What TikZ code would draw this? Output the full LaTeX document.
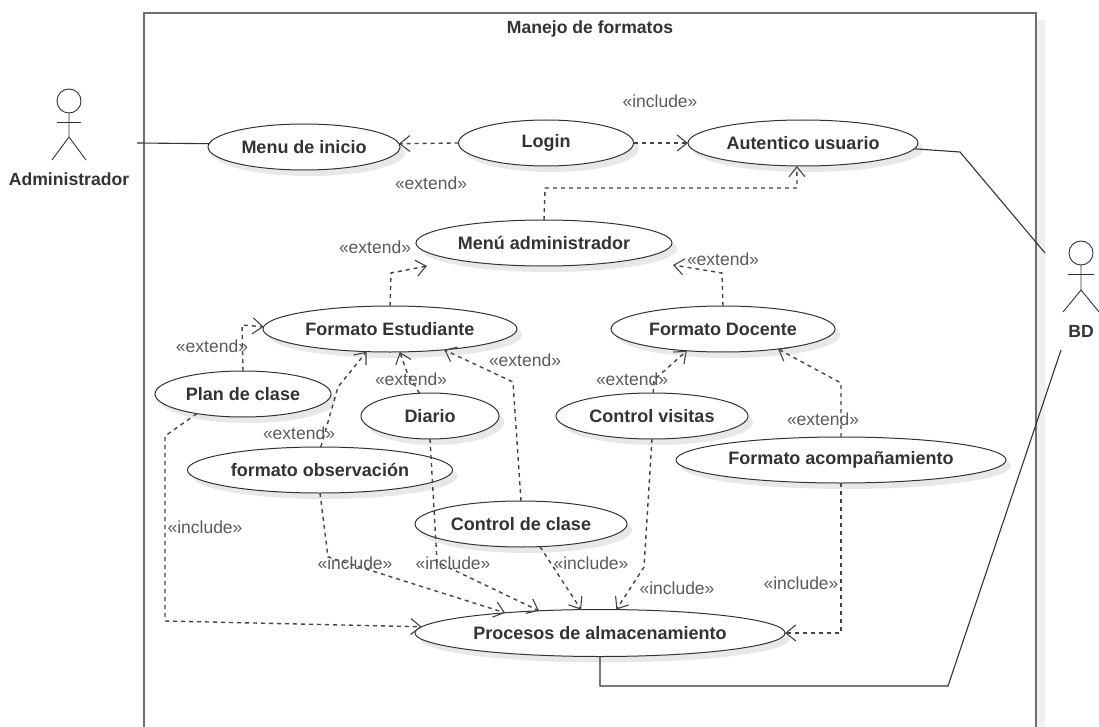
\documentclass[tikz,border=0pt]{standalone}
\usepackage{fontspec}
\setmainfont{Liberation Sans}
\usetikzlibrary{shapes.geometric,arrows.meta,shadows}
\definecolor{ink}{HTML}{333333}
\definecolor{lab}{HTML}{5A5A5A}
\definecolor{dep}{HTML}{444444}
\definecolor{fr}{HTML}{6E6E6E}
\tikzset{
  uc/.style={ellipse,draw=ink,fill=white,line width=1pt,inner sep=0pt,outer sep=0pt,
    minimum height=46pt,text=ink,font=\fontsize{18}{20}\selectfont\bfseries,
    drop shadow={shadow xshift=5pt,shadow yshift=-6pt,fill=black!30,opacity=.3}},
  stereo/.style={text=lab,inner sep=0pt,font=\fontsize{17.5}{20}\selectfont},
  titletext/.style={text=ink,inner sep=0pt,font=\fontsize{17.6}{20}\selectfont\bfseries},
  actorname/.style={text=ink,inner sep=0pt,font=\fontsize{17.6}{20}\selectfont\bfseries},
  dep/.style={draw=dep,line width=1.4pt,dash pattern=on 4pt off 4pt,
    -{Straight Barb[length=10pt,width=16pt,line width=1.1pt]}},
  assoc/.style={draw=ink,line width=1.1pt},
  actorline/.style={draw=ink,line width=.9pt},
  head/.style={circle,draw=ink,line width=.9pt,minimum size=24pt,inner sep=0pt,outer sep=0pt},
}
\begin{document}
\begin{tikzpicture}[x=1pt,y=-1pt]
\useasboundingbox (0,0) rectangle (1099,727);
% frame
\fill[black!6] (1037,20) rectangle (1045,727);
\draw[fr,line width=2pt] (144,727) -- (144,13) -- (1036,13) -- (1036,727);
\node[titletext] (title) at (590,29) {Manejo de formatos};
% use cases
\node[uc,minimum width=192pt] (menu) at (304,147) {Menu de inicio};
\node[uc,minimum width=175pt] (login) at (546,143) {Login};
\node[uc,minimum width=230pt] (auth) at (803,143) {Autentico usuario};
\node[uc,minimum width=256pt] (madm) at (544,243) {Menú administrador};
\node[uc,minimum width=254pt] (fe) at (390,329) {Formato Estudiante};
\node[uc,minimum width=224pt] (fd) at (723,329) {Formato Docente};
\node[uc,minimum width=176pt] (plan) at (243,394) {Plan de clase};
\node[uc,minimum width=138pt] (diario) at (430,416) {Diario};
\node[uc,minimum width=192pt] (cv) at (652,416) {Control visitas};
\node[uc,minimum width=265pt] (obs) at (320,470) {formato observación};
\node[uc,minimum width=330pt] (fa) at (841,460) {Formato acompañamiento};
\node[uc,minimum width=212pt] (cc) at (521,524) {Control de clase};
\node[uc,minimum width=370pt,minimum height=47pt] (proc) at (600,633) {Procesos de almacenamiento};
% actors
\node[head] (adminhead) at (69,101) {};
\coordinate (adminhip) at (69,137);
\draw[actorline] (adminhead.south) -- (adminhip) -- (52,160);
\draw[actorline] (adminhip) -- (86,160);
\draw[actorline] (57,122) -- (81,122);
\node[actorname] (admin) at (69,179) {Administrador};
\node[head] (bdhead) at (1081,253) {};
\coordinate (bdhip) at (1081,290);
\draw[actorline] (bdhead.south) -- (bdhip) -- (1063,312);
\draw[actorline] (bdhip) -- (1099,312);
\draw[actorline] (1068,274) -- (1094,274);
\node[actorname] (bd) at (1081,331) {BD};
% free ends
\coordinate (adminend) at (137,143);
\coordinate (bdendA) at (1045,253);
\coordinate (bdendB) at (1061,350);
\coordinate (madmtipL) at (427,266);
\coordinate (madmtipR) at (673,265);
% associations
\draw[assoc] (adminend) -- (menu.178);
\draw[assoc] (auth.357.4) -- (960,152) -- (bdendA);
\draw[assoc] (proc.270) -- (600,686) -- (948,686) -- (bdendB);
% dependencies
\draw[dep] (login.180) -- (menu.2);
\draw[dep] (login.0) -- (auth.180);
\draw[dep] (madm.90) -- (545,188) -- (797,188) -- (auth.255);
\draw[dep] (fe.90) -- (391,273) -- (madmtipL);
\draw[dep] (fd.90) -- (722,273) -- (madmtipR);
\draw[dep] (plan.90) -- (242,325) -- (fe.179);
\draw[dep] (plan.203) -- (165,436) -- (165,621) -- (proc.178.5);
\draw[dep] (obs.88) -- (338,387) -- (fe.224.5);
\draw[dep] (diario.115.9) -- (407,372) -- (fe.293.5);
\draw[dep] (cc.90) -- (513,382) -- (fe.339.8);
\draw[dep] (diario.270) -- (437,562) -- (proc.160);
\draw[dep] (obs.270) -- (328,557) -- (proc.168.8);
\draw[dep] (cc.310) -- (proc.129);
\draw[dep] (cv.87) -- (654,380) -- (fd.211);
\draw[dep] (cv.270) -- (644,567) -- (proc.55.6);
\draw[dep] (fa.90) -- (841,383) -- (fd.340);
\draw[dep] (fa.270) -- (841,633) -- (proc.0);
% stereotypes
\node[stereo] (s1) at (660,101) {«include»};
\node[stereo] (s2) at (431,183) {«extend»};
\node[stereo] (s3) at (375,247) {«extend»};
\node[stereo] (s4) at (723,259) {«extend»};
\node[stereo] (s5) at (525,360) {«extend»};
\node[stereo] (s6) at (212,346) {«extend»};
\node[stereo] (s7) at (411,379) {«extend»};
\node[stereo] (s8) at (299,433) {«extend»};
\node[stereo] (s9) at (632,379) {«extend»};
\node[stereo] (s10) at (823,419) {«extend»};
\node[stereo] (s11) at (205,527) {«include»};
\node[stereo] (s12) at (355,563) {«include»};
\node[stereo] (s13) at (453,563) {«include»};
\node[stereo] (s14) at (591,563) {«include»};
\node[stereo] (s15) at (677,588) {«include»};
\node[stereo] (s16) at (801,583) {«include»};
\end{tikzpicture}
\end{document}
